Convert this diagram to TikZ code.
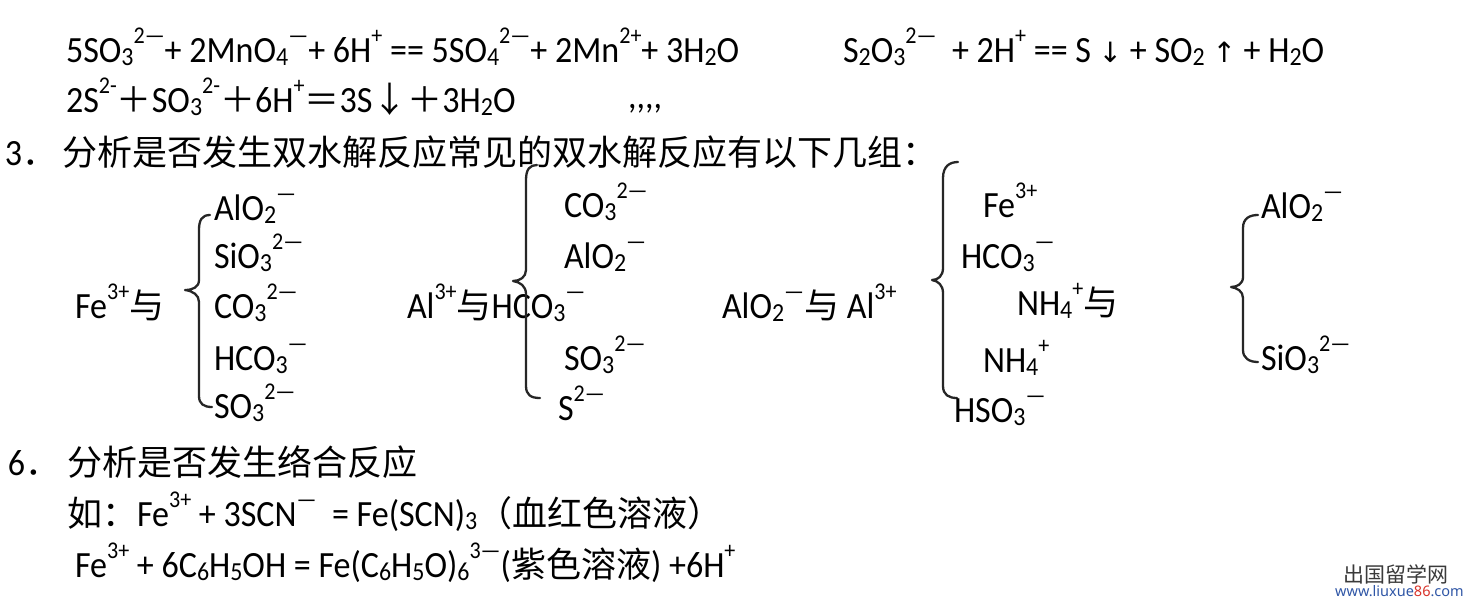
\documentclass[tikz,border=0pt]{standalone}
\usepackage{fontspec}
\newfontfamily\latfont[FakeStretch=0.92]{Carlito}
\newfontfamily\cjkfont{Noto Sans CJK SC}
\newfontfamily\djfont{DejaVu Sans}
\newfontfamily\wmfont{Noto Sans}
\newcommand\zh[1]{{\cjkfont\fontsize{35}{42}\selectfont #1}}
\newcommand\Up[1]{\raisebox{19pt}{\fontsize{24}{24}\selectfont #1}}
\newcommand\Dn[1]{\raisebox{-3pt}{\fontsize{26}{26}\selectfont #1}}
\newcommand\arr[1]{{\djfont\fontsize{28}{30}\selectfont #1}}
\definecolor{wmblue}{HTML}{2F56A6}
\definecolor{wmred}{HTML}{D9342B}
\definecolor{wmgray}{HTML}{3A3A3A}
\tikzset{
  txt/.style={anchor=base west, inner sep=0pt, outer sep=0pt,
    font=\latfont\fontsize{37}{44}\selectfont},
  bracestyle/.style={line width=2.3pt, draw=black!85, line cap=round, line join=round}
}
\begin{document}
\begin{tikzpicture}[x=1pt,y=-1pt]
\useasboundingbox[fill=white] (0,0) rectangle (1477,600);
% line 1
\node[txt] (l1a) at (66,62) {5SO\Dn{3}\Up{2—}+ 2MnO\Dn{4}\Up{—}+ 6H\Up{+} == 5SO\Dn{4}\Up{2—}+ 2Mn\Up{2+}+ 3H\Dn{2}O};
\node[txt] (l1b) at (843,62) {S\Dn{2}O\Dn{3}\Up{2—}\ \ + 2H\Up{+} == S \arr{↓} + SO\Dn{2} \arr{↑} + H\Dn{2}O};
% line 2
\node[txt] (l2) at (66,112) {2S\Up{2-}\zh{＋}SO\Dn{3}\Up{2-}\zh{＋}6H\Up{+}\zh{＝}3S\zh{↓}\zh{＋}3H\Dn{2}O};
\node[txt] (l2c) at (628,108) {,,,,};
% line 3
\node[txt] (n3) at (5,165) {3\zh{．}};
\node[txt] (h3) at (62,165) {\zh{分析是否发生双水解反应常见的双水解反应有以下几组：}};
% group Fe
\node[txt] (fe) at (75,318) {Fe\Up{3+}\zh{与}};
\node[txt] (fe1) at (214,220) {AlO\Dn{2}\Up{—}};
\node[txt] (fe2) at (214,268) {SiO\Dn{3}\Up{2—}};
\node[txt] (fe3) at (214,318) {CO\Dn{3}\Up{2—}};
\node[txt] (fe4) at (214,370) {HCO\Dn{3}\Up{—}};
\node[txt] (fe5) at (214,418) {SO\Dn{3}\Up{2—}};
\draw[bracestyle] (210,215) .. controls (202,215) and (199,220) .. (199,230) -- (199,280) .. controls (199,287) and (193,290) .. (185,290) .. controls (193,291) and (199,295) .. (199,302) -- (199,396) .. controls (199,404) and (204,407) .. (212,407);
% group Al
\node[txt] (al) at (407,318) {Al\Up{3+}\zh{与}HCO\Dn{3}\Up{—}};
\node[txt] (al1) at (564,217) {CO\Dn{3}\Up{2—}};
\node[txt] (al2) at (564,268) {AlO\Dn{2}\Up{—}};
\node[txt] (al3) at (564,370) {SO\Dn{3}\Up{2—}};
\node[txt] (al4) at (558,420) {S\Up{2—}};
\draw[bracestyle] (537,165) .. controls (530,165) and (526,169) .. (526,180) -- (526,270) .. controls (526,277) and (520,281) .. (513,281) .. controls (520,282) and (526,286) .. (526,294) -- (526,386) .. controls (526,395) and (531,398) .. (540,398);
% AlO2 with Al
\node[txt] (alo) at (722,318) {AlO\Dn{2}\Up{—}\zh{与} Al\Up{3+}};
% group NH4
\draw[bracestyle] (958,162) .. controls (950,162) and (943,166) .. (943,178) -- (943,268) .. controls (943,276) and (938,280) .. (932,280) .. controls (938,281) and (943,285) .. (943,293) -- (943,386) .. controls (943,395) and (949,398) .. (957,398);
\node[txt] (nh1) at (983,217) {Fe\Up{3+}};
\node[txt] (nh2) at (961,268) {HCO\Dn{3}\Up{—}};
\node[txt] (nh) at (1017,315) {NH\Dn{4}\Up{+}\zh{与}};
\node[txt] (nh3) at (983,372) {NH\Dn{4}\Up{+}};
\node[txt] (nh4) at (954,422) {HSO\Dn{3}\Up{—}};
% group 4
\draw[bracestyle] (1258,215) .. controls (1250,215) and (1243,218) .. (1243,228) -- (1243,277) .. controls (1243,284) and (1237,287) .. (1231,287) .. controls (1237,288) and (1243,291) .. (1243,298) -- (1243,350) .. controls (1243,358) and (1249,362) .. (1258,362);
\node[txt] (g1) at (1261,218) {AlO\Dn{2}\Up{—}};
\node[txt] (g2) at (1261,370) {SiO\Dn{3}\Up{2—}};
% section 6
\node[txt] (n6) at (8,475) {6\zh{．}};
\node[txt] (h6) at (67,475) {\zh{分析是否发生络合反应}};
\node[txt] (l7) at (67,526) {\zh{如：}Fe\Up{3+} + 3SCN\Up{—}\ \ = Fe(SCN)\Dn{3}\zh{（血红色溶液）}};
\node[txt] (l8) at (75,577) {Fe\Up{3+} + 6C\Dn{6}H\Dn{5}OH = Fe(C\Dn{6}H\Dn{5}O)\Dn{6}\Up{3—}(\zh{紫色溶液}) +6H\Up{+}};
% watermark
\node[anchor=base west, inner sep=0pt, text=wmgray, font=\cjkfont\fontsize{21}{22}\selectfont] (wm1) at (1343,582) {出国留学网};
\node[anchor=base west, inner sep=0pt, text=wmblue, font=\wmfont\bfseries\fontsize{14.5}{15}\selectfont] (wm2) at (1335,596) {www.liuxue\textcolor{wmred}{86}.com};
\end{tikzpicture}
\end{document}
